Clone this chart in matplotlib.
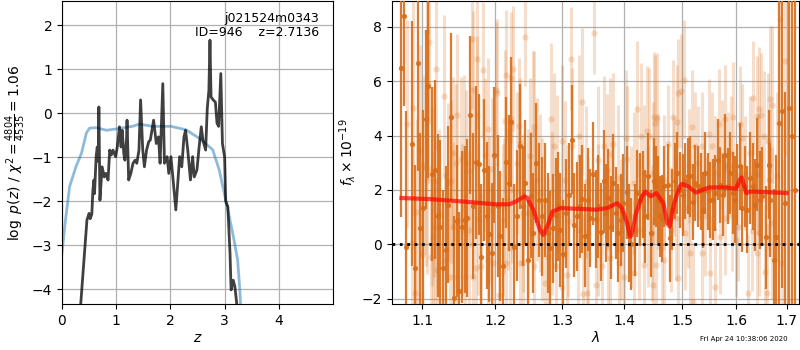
import numpy as np
import matplotlib
matplotlib.use("Agg")
import matplotlib.pyplot as plt
from matplotlib.ticker import NullLocator, FixedLocator, FixedFormatter

# ---- left panel: log p(z) ----
z_blue = [0.0, 0.05, 0.14, 0.26, 0.36, 0.45, 0.51, 0.63, 0.82, 1.0, 1.3, 1.43, 1.67,
          2.01, 2.29, 2.53, 2.78, 2.9, 3.02, 3.15, 3.24, 3.28, 3.32]
logp_blue = [-3.18, -2.58, -1.67, -1.21, -0.91, -0.45, -0.34, -0.33, -0.39, -0.36, -0.3,
             -0.25, -0.3, -0.3, -0.38, -0.57, -0.83, -1.29, -1.97, -2.73, -3.33, -4.0, -5.0]

z_pz = [0.33, 0.46, 0.50, 0.52, 0.55, 0.57, 0.59, 0.60, 0.63, 0.65, 0.67, 0.68, 0.70, 0.74,
        0.78, 0.81, 0.85, 0.88, 0.91, 0.94, 0.99, 1.02, 1.06, 1.09, 1.11, 1.14, 1.16, 1.19,
        1.20, 1.23, 1.27, 1.31, 1.35, 1.38, 1.42, 1.45, 1.49, 1.52, 1.56, 1.60, 1.63, 1.69,
        1.74, 1.78, 1.81, 1.86, 1.89, 1.94, 1.97, 2.01, 2.05, 2.10, 2.14, 2.17, 2.21, 2.25,
        2.28, 2.32, 2.37, 2.41, 2.44, 2.49, 2.53, 2.57, 2.60, 2.65, 2.68, 2.71, 2.73, 2.75,
        2.79, 2.83, 2.86, 2.89, 2.93, 2.96, 3.00, 3.02, 3.06, 3.10, 3.12, 3.16, 3.19, 3.23, 3.26]
logp_pz = [-4.6, -2.43, -2.28, -2.40, -2.30, -1.75, -1.52, -1.83, -0.99, -0.77, -1.10, 0.14,
           -1.98, -1.22, -1.45, -1.37, -1.52, -0.84, -0.95, -0.84, -0.99, -0.77, -0.31, -0.77,
           -0.39, -0.92, -1.07, -0.61, -0.16, -1.52, -1.37, -1.14, -1.07, -1.14, -0.84, 0.30,
           -0.84, -1.22, -0.84, -0.65, -0.61, -0.16, -0.69, -0.54, -1.14, 0.67, -1.14, -0.99,
           -1.37, -0.99, -1.52, -2.20, -1.52, -0.99, -1.22, -0.54, -0.39, -0.84, -1.52, -0.99,
           -1.45, -1.29, -0.77, -0.31, -0.61, -0.84, 0.10, 0.52, 1.66, 0.37, 0.30, 0.25, -0.23,
           -0.30, 0.90, -0.69, -1.00, -2.00, -2.13, -3.19, -4.02, -3.80, -3.95, -4.40, -5.0]

# ---- right panel: spectrum ----
lam_dark = [1.072, 1.076, 1.079, 1.087, 1.090, 1.094, 1.097, 1.101, 1.105, 1.108,
            1.113, 1.117, 1.121, 1.124, 1.128, 1.132, 1.135, 1.139, 1.143, 1.147,
            1.150, 1.154, 1.158, 1.160, 1.165, 1.169, 1.173, 1.177, 1.180, 1.184,
            1.188, 1.192, 1.195, 1.199, 1.204, 1.207, 1.212, 1.216, 1.220, 1.223,
            1.228, 1.232, 1.236, 1.240, 1.244, 1.248, 1.252, 1.256, 1.260, 1.265,
            1.269, 1.273, 1.278, 1.282, 1.286, 1.290, 1.293, 1.297, 1.302, 1.306,
            1.310, 1.315, 1.319, 1.324, 1.328, 1.331, 1.336, 1.340, 1.344, 1.349,
            1.353, 1.357, 1.362, 1.366, 1.370, 1.373, 1.378, 1.382, 1.386, 1.390,
            1.394, 1.398, 1.404, 1.408, 1.412, 1.418, 1.422, 1.426, 1.431, 1.435,
            1.440, 1.445, 1.450, 1.454, 1.458, 1.462, 1.465, 1.469, 1.475, 1.479,
            1.483, 1.487, 1.492, 1.497, 1.501, 1.506, 1.511, 1.515, 1.520, 1.524,
            1.529, 1.534, 1.538, 1.542, 1.547, 1.552, 1.557, 1.561, 1.566, 1.570,
            1.575, 1.579, 1.584, 1.589, 1.594, 1.598, 1.602, 1.607, 1.612, 1.617,
            1.622, 1.626, 1.632, 1.636, 1.641, 1.647, 1.651, 1.658, 1.664, 1.667,
            1.674, 1.679, 1.685, 1.691, 1.697, 1.704, 1.711, 1.717]
flux_dark = [6.50, 8.38, -0.09, 3.70, -0.89, 6.68, 0.59, 1.33, 4.59, 5.84,
             2.60, 2.74, 1.05, 0.63, -0.89, -0.23, 1.46, 4.69, -1.97, 0.84,
             -1.72, 0.63, 0.90, 0.96, 4.76, 1.41, 3.01, 2.94, -0.47, 2.73,
             1.05, 0.38, -0.33, 3.28, 1.41, 0.31, -0.80, 3.01, 2.26, 4.50,
             -0.09, 1.05, 3.60, 1.41, 2.26, -0.58, 1.78, 0.41, 2.99, 1.64,
             1.02, 1.64, 0.41, -0.15, 0.59, 1.08, 1.39, 0.53, -0.36, 1.14,
             1.82, 3.85, 0.71, 1.02, 1.39, 1.66, 0.31, 1.64, 0.96, 2.60,
             0.93, 1.39, 0.44, 2.31, 1.14, 1.70, 0.62, 2.25, 1.14, 0.41,
             0.90, 1.51, 1.91, 0.41, 0.01, 0.53, 1.88, 1.64, 1.82, 1.02,
             2.50, 0.41, 2.31, 2.13, 1.64, 1.02, 0.93, 2.13, 2.19, 0.22,
             1.27, 2.31, 2.62, 2.00, 1.82, 2.31, 2.50, 2.50, 1.57, 2.25,
             2.13, 1.94, 1.27, 2.62, 1.94, 1.64, 1.64, 1.88, 3.11, 2.19,
             1.82, 3.30, 2.13, 2.62, 1.88, 1.64, 2.19, 2.87, 1.33, 2.13,
             1.27, 2.44, 2.13, 1.45, 2.93, 1.64, 1.76, 0.26, 2.93, 1.64,
             -0.58, 0.28, 4.47, 4.90, 1.50, 5.00, 4.00, 2.00]
err_dark = [5.5, 3.3, 5.0, 4.5, 3.8, 4.0, 3.5, 3.6, 3.3, 3.4,
            3.2, 3.3, 3.0, 3.2, 2.9, 3.1, 2.9, 3.1, 3.0, 2.8,
            2.9, 2.8, 2.7, 2.9, 2.9, 2.7, 2.8, 2.6, 2.7, 2.6,
            2.7, 2.5, 2.6, 2.5, 2.6, 2.4, 2.5, 2.4, 2.5, 2.4,
            2.3, 2.4, 2.3, 2.2, 2.3, 2.2, 2.3, 2.2, 2.2, 2.1,
            2.2, 2.1, 2.2, 2.1, 2.0, 2.1, 2.0, 2.1, 2.0, 2.0,
            1.9, 2.0, 1.9, 2.0, 1.9, 2.0, 1.9, 1.9, 1.8, 1.9,
            1.8, 1.9, 1.8, 1.9, 1.8, 1.8, 1.9, 1.8, 1.7, 1.8,
            1.7, 1.8, 1.7, 1.8, 1.7, 1.7, 1.6, 1.7, 1.6, 1.7,
            1.6, 1.6, 1.6, 1.5, 1.6, 1.5, 1.6, 1.5, 1.5, 1.6,
            1.5, 1.4, 1.5, 1.4, 1.5, 1.4, 1.4, 1.5, 1.4, 1.4,
            1.5, 1.4, 1.4, 1.5, 1.4, 1.4, 1.5, 1.4, 1.5, 1.4,
            1.5, 1.5, 1.4, 1.5, 1.5, 1.6, 1.5, 1.6, 1.6, 1.5,
            1.6, 1.7, 1.6, 1.7, 1.7, 1.8, 1.8, 1.9, 2.0, 2.1,
            2.6, 3.0, 7.0, 6.5, 4.1, 8.0, 8.0, 9.0]

lam_light = [1.0805, 1.0863, 1.0885, 1.0908, 1.0931, 1.0965, 1.1000, 1.1023, 1.1045, 1.1060,
             1.1069, 1.1078, 1.1092, 1.1114, 1.1128, 1.1137, 1.1160, 1.1165, 1.1183, 1.1190,
             1.1229, 1.1284, 1.1298, 1.1343, 1.1366, 1.1389, 1.1412, 1.1418, 1.1457, 1.1467,
             1.1471, 1.1526, 1.1532, 1.1563, 1.1570, 1.1587, 1.1632, 1.1641, 1.1677, 1.1687,
             1.1692, 1.1724, 1.1742, 1.1746, 1.1756, 1.1801, 1.1824, 1.1861, 1.1893, 1.1897,
             1.1916, 1.1962, 1.1968, 1.2007, 1.2022, 1.2059, 1.2108, 1.2134, 1.2149, 1.2155,
             1.2158, 1.2184, 1.2209, 1.2233, 1.2243, 1.2263, 1.2319, 1.2349, 1.2359, 1.2365,
             1.2404, 1.2409, 1.2439, 1.2484, 1.2509, 1.2560, 1.2570, 1.2578, 1.2609, 1.2659,
             1.2684, 1.2739, 1.2779, 1.2834, 1.2849, 1.2875, 1.2903, 1.2918, 1.3000, 1.3005,
             1.3041, 1.3073, 1.3085, 1.3145, 1.3161, 1.3246, 1.3270, 1.3320, 1.3331, 1.3379,
             1.3385, 1.3409, 1.3497, 1.3530, 1.3562, 1.3574, 1.3627, 1.3660, 1.3708, 1.3740,
             1.3761, 1.3767, 1.3822, 1.3898, 1.3908, 1.3946, 1.4000, 1.4038, 1.4050, 1.4111,
             1.4165, 1.4170, 1.4222, 1.4252, 1.4279, 1.4337, 1.4342, 1.4395, 1.4400, 1.4422,
             1.4472, 1.4482, 1.4487, 1.4505, 1.4527, 1.4538, 1.4568, 1.4575, 1.4647, 1.4684,
             1.4690, 1.4752, 1.4808, 1.4838, 1.4866, 1.4896, 1.4915, 1.4926, 1.4931, 1.4986,
             1.5031, 1.5049, 1.5111, 1.5122, 1.5141, 1.5185, 1.5204, 1.5233, 1.5296, 1.5357,
             1.5362, 1.5419, 1.5495, 1.5514, 1.5543, 1.5607, 1.5612, 1.5669, 1.5700, 1.5731,
             1.5793, 1.5798, 1.5851, 1.5913, 1.5918, 1.5944, 1.6005, 1.6038, 1.6071, 1.6118,
             1.6168, 1.6234, 1.6269, 1.6300, 1.6320, 1.6399, 1.6404, 1.6431, 1.6436, 1.6445,
             1.6484, 1.6544, 1.6564, 1.6598, 1.6632, 1.6637, 1.6664, 1.6699, 1.6712, 1.6800,
             1.6866, 1.6900, 1.6967]
flux_light = [4.44, 0.04, 5.02, -1.81, 1.20, 3.42, -0.39, 2.93, 2.80, 2.31,
              7.81, 5.88, 7.44, -0.48, 1.76, 0.28, 2.31, 0.65, 6.46, -0.95,
              1.14, 5.45, -0.58, 2.28, -1.19, 2.31, 3.36, 0.65, 2.99, 4.74,
              -1.19, 3.14, 0.90, 3.32, -1.19, 2.99, 0.53, 2.68, 7.56, 5.67,
              -1.19, -0.86, 4.77, 6.83, 0.92, -0.82, 6.41, 3.30, -0.58, 4.24,
              1.27, 2.77, -0.70, 5.67, 5.57, -1.87, 0.90, 1.41, 4.53, -0.70,
              6.21, 1.64, -0.15, 6.13, 2.00, 6.46, 2.99, 4.34, 3.73, -0.70,
              -0.70, 1.14, 7.64, 1.14, 3.23, 4.10, -0.80, 4.32, 2.37, 1.88,
              0.90, -1.44, -0.46, 4.59, 1.14, 3.60, -0.82, 2.60, 3.79, -1.59,
              2.37, -1.13, 0.84, 6.83, 3.60, 0.53, 3.97, 5.24, -1.83, 2.28,
              -1.81, 0.41, 7.76, -1.50, 3.11, 0.90, -0.82, 3.60, 2.74, -0.09,
              -0.52, 3.32, 3.70, 2.44, -0.70, 0.53, -1.19, 3.91, 3.14, 1.02,
              2.25, -1.07, 4.96, 0.53, 3.97, 2.62, -0.76, 4.16, 1.02, 3.97,
              0.41, 2.62, -1.50, 4.69, 4.47, -0.76, 4.65, 2.31, -0.09, 2.37,
              -0.58, 3.67, 0.53, 4.69, 2.50, 0.96, 4.49, 5.55, -1.25, 5.63,
              6.06, 0.41, 1.33, 2.87, -0.33, 4.32, -2.12, 3.60, 2.99, 3.60,
              -0.33, 1.02, 4.07, -1.07, 3.60, 2.62, -1.59, 4.44, 0.28, 3.30,
              4.61, 0.96, 2.87, 3.36, 1.02, 4.69, 0.16, 0.65, 4.44, 3.91,
              2.62, -1.81, 3.36, 0.47, 5.39, 4.71, -0.31, 2.56, 0.41, 4.96,
              4.74, 3.97, -1.01, -1.81, 3.79, 2.37, 5.33, 0.77, 5.14, 2.50,
              8.28, -0.70, 6.74]
err_light = [3.8, 3.5, 4.0, 3.6, 3.4, 3.9, 3.5, 3.3, 3.6, 3.4,
             3.2, 3.5, 3.0, 3.4, 3.3, 3.1, 3.5, 3.2, 3.0, 3.3,
             3.1, 3.0, 3.2, 2.9, 3.1, 3.0, 2.8, 3.1, 2.9, 3.0,
             2.9, 3.0, 2.8, 2.9, 3.0, 2.7, 2.9, 2.8, 2.6, 2.9,
             2.8, 2.7, 2.9, 2.6, 2.8, 2.7, 2.5, 2.8, 2.7, 2.6,
             2.7, 2.6, 2.8, 2.5, 2.7, 2.6, 2.8, 2.5, 2.6, 2.7,
             2.4, 2.6, 2.5, 2.4, 2.7, 2.3, 2.6, 2.5, 2.4, 2.6,
             3.0, 2.9, 1.8, 3.1, 2.9, 3.0, 3.1, 2.8, 3.0, 2.9,
             3.0, 3.1, 2.9, 2.8, 3.0, 2.7, 3.0, 2.9, 2.8, 3.1,
             2.9, 3.0, 2.8, 1.9, 2.9, 2.8, 3.0, 2.7, 2.9, 2.8,
             3.0, 2.8, 1.5, 2.9, 2.7, 2.8, 2.9, 2.6, 2.8, 2.9,
             2.7, 2.8, 2.6, 2.7, 2.8, 2.6, 2.7, 2.5, 2.7, 2.6,
             2.6, 2.7, 2.5, 2.6, 2.7, 2.5, 2.6, 2.4, 2.6, 2.5,
             2.5, 2.6, 2.5, 2.4, 2.5, 2.6, 2.4, 2.5, 2.6, 2.4,
             2.3, 2.2, 2.3, 2.1, 2.2, 2.3, 2.1, 2.0, 2.3, 2.1,
             2.2, 2.1, 2.2, 2.1, 2.2, 2.1, 2.2, 2.0, 2.1, 2.0,
             2.1, 2.2, 2.0, 2.1, 2.0, 2.1, 2.2, 2.0, 2.1, 2.0,
             2.0, 2.1, 2.0, 2.1, 2.0, 2.0, 2.1, 2.0, 2.1, 2.0,
             2.1, 2.2, 2.1, 2.2, 2.1, 2.2, 2.3, 2.2, 2.3, 2.3,
             2.3, 2.4, 2.5, 2.6, 2.5, 2.6, 2.7, 2.8, 2.9, 3.1,
             3.3, 3.8, 3.5]

lam_model = [1.073, 1.11, 1.155, 1.20, 1.221, 1.23, 1.243, 1.247, 1.256, 1.266, 1.271,
             1.279, 1.285, 1.298, 1.326, 1.355, 1.372, 1.388, 1.396, 1.405, 1.41, 1.4125,
             1.42, 1.43, 1.436, 1.445, 1.455, 1.467, 1.474, 1.478, 1.486, 1.496, 1.50,
             1.512, 1.525, 1.537, 1.55, 1.576, 1.592, 1.60, 1.607, 1.611, 1.616, 1.62,
             1.628, 1.654, 1.70]
flux_model = [1.70, 1.66, 1.57, 1.47, 1.47, 1.57, 1.76, 1.70, 1.27, 0.53, 0.34,
              0.77, 1.20, 1.33, 1.30, 1.27, 1.33, 1.51, 1.33, 0.77, 0.28, 0.34,
              1.14, 1.76, 1.94, 1.76, 1.88, 1.51, 0.77, 0.65, 1.51, 2.12, 2.22,
              2.12, 1.90, 2.00, 2.09, 2.09, 2.06, 2.04, 2.37, 2.46, 2.12, 1.88,
              1.94, 1.92, 1.88]

orange = "#d96d18"

fig = plt.figure(figsize=(8, 3.5), dpi=100)
ax1 = fig.add_axes([62 / 800, 46 / 350, 271 / 800, 303 / 350])
ax2 = fig.add_axes([392 / 800, 46 / 350, 407 / 800, 303 / 350])

# p(z) panel
ax1.plot(z_blue, logp_blue, color="#1f77b4", alpha=0.5, lw=2)
ax1.plot(z_pz, logp_pz, color="k", alpha=0.75, lw=2)
ax1.set_xlim(0, 5.0)
ax1.set_ylim(-4.34, 2.55)
ax1.set_xticks([0, 1, 2, 3, 4])
ax1.set_yticks([-4, -3, -2, -1, 0, 1, 2])
ax1.grid(True, color="#b0b0b0", lw=0.9)
ax1.set_xlabel("$z$", fontsize=10, labelpad=2)
ax1.set_ylabel(r"$\log\ p(z)$ / $\chi^2=\frac{4804}{4535}=1.06$", fontsize=10, labelpad=3)
ax1.text(0.95, 0.965, "j021524m0343\nID=946    z=2.7136", transform=ax1.transAxes,
         ha="right", va="top", fontsize=9, linespacing=1.15)
ax1.tick_params(labelsize=10)

# spectrum panel
ax2.errorbar(lam_light, flux_light, yerr=err_light, fmt="o", color=orange, alpha=0.22,
             ms=4.5, mew=0, elinewidth=2.2, capsize=0, zorder=2)
ax2.errorbar(lam_dark, flux_dark, yerr=err_dark, fmt="o", color=orange, alpha=0.9,
             ms=3.8, mew=0, elinewidth=1.6, capsize=0, zorder=3)
ax2.plot(lam_model, flux_model, color="red", alpha=0.7, lw=3, zorder=4)
ax2.axhline(0, color="k", ls=":", lw=2, zorder=5)
ax2.set_xscale("log")
ax2.set_xlim(1.061, 1.725)
ax2.set_ylim(-2.2, 8.95)
ax2.xaxis.set_major_locator(FixedLocator([1.1, 1.2, 1.3, 1.4, 1.5, 1.6, 1.7]))
ax2.xaxis.set_major_formatter(FixedFormatter(["1.1", "1.2", "1.3", "1.4", "1.5", "1.6", "1.7"]))
ax2.xaxis.set_minor_locator(NullLocator())
ax2.set_yticks([-2, 0, 2, 4, 6, 8])
ax2.grid(True, color="#b0b0b0", lw=0.9)
ax2.set_xlabel(r"$\lambda$", fontsize=10, labelpad=2)
ax2.set_ylabel(r"$f_\lambda\times10^{-19}$", fontsize=10, labelpad=3)
ax2.tick_params(labelsize=10)

fig.text(0.984, 0.031, "Fri Apr 24 10:38:06 2020", ha="right", va="center", fontsize=5)

fig.savefig("out.png", dpi=100)
